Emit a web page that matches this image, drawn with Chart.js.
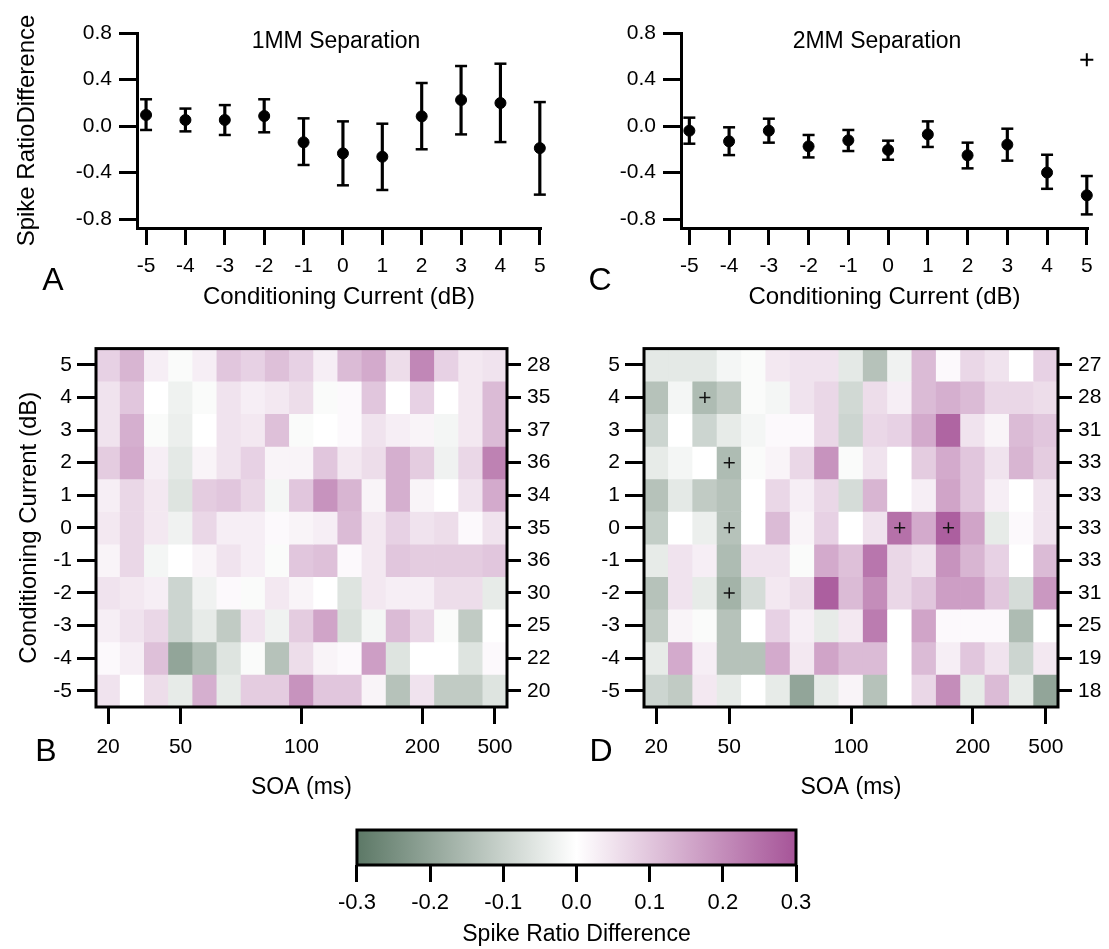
<!DOCTYPE html>
<html>
<head>
<meta charset="utf-8">
<script src="https://cdn.jsdelivr.net/npm/chart.js@4.4.0/dist/chart.umd.min.js"></script>
<style>
  body { margin: 0; background: #fff; font-family: 'Liberation Sans', Arial, sans-serif; }
  #page { position: relative; width: 1109px; height: 949px; overflow: hidden; }
  canvas { position: absolute; }
  .lbl { position: absolute; transform: translate(-50%, -50%); color: #000; white-space: nowrap; }
</style>
</head>
<body>
<div id="page">
  <canvas id="chartA" width="580" height="320" style="left:0;top:0"></canvas>
  <canvas id="chartC" width="549" height="320" style="left:560px;top:0"></canvas>
  <canvas id="chartB" width="580" height="480" style="left:0;top:330px"></canvas>
  <canvas id="chartD" width="549" height="480" style="left:560px;top:330px"></canvas>
  <canvas id="cbar" width="500" height="134" style="left:330px;top:815px"></canvas>
  <div class="lbl" style="left:53px;top:279px;font-size:32px">A</div>
  <div class="lbl" style="left:600px;top:279px;font-size:32px">C</div>
  <div class="lbl" style="left:46px;top:750px;font-size:32px">B</div>
  <div class="lbl" style="left:601px;top:750px;font-size:32px">D</div>
  <div class="lbl" style="left:336px;top:40px;font-size:23px">1MM Separation</div>
  <div class="lbl" style="left:877px;top:40px;font-size:23px">2MM Separation</div>
</div>
<script>
/* data */
const currents = [-5, -4, -3, -2, -1, 0, 1, 2, 3, 4, 5];

// A: 1 mm separation, mean and error bar ends
const meanA  = [0.095, 0.052, 0.052, 0.086, -0.14, -0.235, -0.264, 0.083, 0.224, 0.198, -0.19];
const upperA = [0.23, 0.15, 0.18, 0.23, 0.066, 0.04, 0.02, 0.37, 0.516, 0.536, 0.206];
const lowerA = [-0.034, -0.046, -0.077, -0.054, -0.335, -0.51, -0.55, -0.2, -0.072, -0.138, -0.59];

// C: 2 mm separation
const meanC  = [-0.04, -0.132, -0.04, -0.175, -0.123, -0.206, -0.072, -0.252, -0.16, -0.4, -0.596];
const upperC = [0.072, -0.011, 0.063, -0.077, -0.034, -0.126, 0.04, -0.143, -0.023, -0.247, -0.43];
const lowerC = [-0.152, -0.25, -0.143, -0.27, -0.215, -0.29, -0.18, -0.364, -0.298, -0.54, -0.76];
const sigCx = [5];
const sigCy = [0.57];

// heatmaps: rows from +5 dB (top) to -5 dB, 17 SOA columns
const rowLevels = [5, 4, 3, 2, 1, 0, -1, -2, -3, -4, -5];
const soaTickIndex = [0, 3, 8, 13, 16];
const soaTickLabel = ['20', '50', '100', '200', '500'];
const countsB = [28, 35, 37, 36, 34, 35, 36, 30, 25, 22, 20];
const countsD = [27, 28, 31, 33, 33, 33, 33, 31, 25, 19, 18];

const heatB = [
  [0.08, 0.13, 0.03, -0.01, 0.03, 0.10, 0.08, 0.11, 0.08, 0.03, 0.12, 0.15, 0.06, 0.21, 0.08, 0.04, 0.05],
  [0.05, 0.10, 0.00, -0.03, -0.01, 0.05, 0.03, 0.04, 0.06, -0.01, 0.01, 0.10, 0.00, 0.08, 0.00, 0.04, 0.12],
  [0.05, 0.14, -0.01, -0.035, 0.00, 0.05, 0.04, 0.11, -0.01, 0.00, 0.01, 0.05, 0.03, 0.02, -0.02, 0.04, 0.12],
  [0.09, 0.15, 0.03, -0.05, 0.02, 0.05, 0.08, 0.02, 0.02, 0.10, 0.04, 0.06, 0.14, 0.09, -0.028, 0.07, 0.22],
  [0.03, 0.07, 0.04, -0.06, 0.09, 0.10, 0.07, -0.02, 0.10, 0.19, 0.13, 0.02, 0.14, 0.02, 0.00, 0.05, 0.15],
  [0.04, 0.07, 0.04, -0.028, 0.07, 0.03, 0.03, 0.01, 0.02, 0.03, 0.12, 0.04, 0.08, 0.05, 0.06, 0.01, 0.05],
  [0.02, 0.07, -0.02, 0.00, 0.02, 0.05, 0.03, -0.01, 0.10, 0.11, 0.01, 0.04, 0.10, 0.09, 0.09, 0.09, 0.10],
  [0.05, 0.04, 0.03, -0.093, -0.028, 0.01, -0.01, 0.04, 0.02, 0.00, -0.06, 0.04, 0.03, 0.03, 0.06, 0.06, -0.045],
  [0.03, 0.05, 0.07, -0.093, -0.045, -0.115, 0.05, -0.028, 0.09, 0.16, -0.07, -0.02, 0.12, 0.07, -0.01, -0.115, 0.00],
  [0.01, 0.03, 0.11, -0.20, -0.145, -0.06, -0.01, -0.135, 0.06, 0.02, 0.01, 0.17, -0.06, 0.00, 0.00, -0.06, 0.01],
  [0.05, 0.00, 0.06, -0.045, 0.14, -0.045, 0.09, 0.09, 0.19, 0.10, 0.10, 0.02, -0.135, 0.05, -0.115, -0.115, -0.06]
];

const heatD = [
  [-0.05, -0.05, -0.05, -0.02, -0.01, 0.04, 0.05, 0.05, -0.05, -0.135, -0.028, 0.12, 0.01, 0.07, 0.05, 0.00, 0.08],
  [-0.135, -0.02, -0.15, -0.115, -0.01, -0.02, 0.05, 0.07, -0.085, 0.06, 0.03, 0.12, 0.14, 0.12, 0.07, 0.07, 0.06],
  [-0.093, 0.00, -0.093, -0.045, -0.02, 0.01, 0.01, 0.07, -0.093, 0.07, 0.08, 0.15, 0.27, 0.05, 0.02, 0.12, 0.10],
  [-0.045, -0.02, 0.00, -0.15, -0.01, 0.02, 0.07, 0.19, -0.01, 0.05, 0.00, 0.09, 0.15, 0.10, 0.05, 0.13, 0.09],
  [-0.135, -0.05, -0.115, -0.135, 0.00, 0.07, 0.03, 0.07, -0.077, 0.13, 0.00, 0.03, 0.16, 0.10, 0.03, 0.00, 0.05],
  [-0.11, 0.00, -0.035, -0.135, 0.00, 0.12, 0.02, 0.08, 0.00, 0.05, 0.25, 0.15, 0.28, 0.16, -0.045, 0.01, 0.05],
  [-0.045, 0.05, 0.03, -0.15, 0.05, 0.05, -0.01, 0.15, 0.11, 0.24, 0.07, 0.05, 0.19, 0.13, 0.08, 0.00, 0.12],
  [-0.135, 0.05, -0.045, -0.17, -0.077, 0.04, 0.06, 0.28, 0.12, 0.20, 0.07, 0.10, 0.17, 0.17, 0.10, -0.077, 0.18],
  [-0.115, 0.02, -0.01, -0.135, 0.00, 0.08, 0.03, -0.045, 0.04, 0.23, 0.00, 0.16, 0.01, 0.01, 0.01, -0.15, 0.00],
  [-0.045, 0.15, 0.03, -0.135, -0.135, 0.15, 0.04, 0.16, 0.12, 0.12, 0.00, 0.12, 0.03, 0.10, 0.05, -0.093, 0.04],
  [-0.093, -0.115, 0.04, -0.045, 0.00, -0.045, -0.20, -0.045, 0.02, -0.135, 0.00, 0.07, 0.20, -0.045, 0.12, -0.045, -0.20]
];

// significant cells in D (column index, level in dB)
const sigDcol = [2, 3, 3, 10, 12, 3];
const sigDrow = [4, 2, 0, 0, 0, -2];

/* colour scale */
const cmax = 0.3;
const lowColor = [92, 120, 102];
const highColor = [166, 84, 152];

function spikeColor(v) {
    let t = Math.max(-1, Math.min(1, v / cmax));
    const end = t < 0 ? lowColor : highColor;
    t = Math.abs(t);
    const c = end.map(e => Math.round(255 + (e - 255) * t));
    return 'rgb(' + c.join(',') + ')';
}

function fmt1(v) {
    return (Math.abs(v) < 1e-9 ? 0 : v).toFixed(1);
}

Chart.defaults.font.family = "'Liberation Sans', Arial, sans-serif";
Chart.defaults.font.size = 21;
Chart.defaults.color = '#000';

const framePlugin = {
    id: 'frame',
    afterDatasetsDraw(chart) {
        const ctx = chart.ctx, a = chart.chartArea;
        ctx.save();
        ctx.strokeStyle = '#000';
        ctx.lineWidth = 3;
        ctx.strokeRect(a.left, a.top, a.right - a.left, a.bottom - a.top);
        ctx.restore();
    }
};

const gradientPlugin = {
    id: 'cbarFill',
    beforeDatasetsDraw(chart) {
        const ctx = chart.ctx, a = chart.chartArea, x = chart.scales.x;
        const g = ctx.createLinearGradient(x.getPixelForValue(-cmax), 0, x.getPixelForValue(cmax), 0);
        g.addColorStop(0, spikeColor(-cmax));
        g.addColorStop(0.5, spikeColor(0));
        g.addColorStop(1, spikeColor(cmax));
        ctx.save();
        ctx.fillStyle = g;
        ctx.fillRect(a.left, a.top, a.right - a.left, a.bottom - a.top);
        ctx.restore();
    }
};

/* error bar panels */
function makeErrorChart(id, mean, upper, lower, sigX, sigY, box) {
    const xy = (arr) => currents.map((c, i) => ({x: c, y: arr[i]}));
    new Chart(document.getElementById(id), {
        type: 'scatter',
        data: {
            datasets: [
                {type: 'bar', data: currents.map((c, i) => ({x: c, y: [lower[i], upper[i]]})),
                 backgroundColor: '#000', barThickness: 2.5, grouped: false, clip: false},
                {data: xy(upper), pointStyle: 'line', pointRadius: 6, borderColor: '#000', borderWidth: 2.5, clip: false},
                {data: xy(lower), pointStyle: 'line', pointRadius: 6, borderColor: '#000', borderWidth: 2.5, clip: false},
                {data: xy(mean), pointRadius: 5.5, backgroundColor: '#000', borderColor: '#000', clip: false},
                {data: sigX.map((x, i) => ({x: x, y: sigY[i]})), pointStyle: 'cross', pointRadius: 6.5,
                 borderColor: '#000', borderWidth: 2, clip: false}
            ]
        },
        options: {
            responsive: false,
            animation: false,
            events: [],
            layout: {padding: {top: 33, right: box.right, left: 0, bottom: 0}},
            plugins: {legend: {display: false}, tooltip: {enabled: false}},
            scales: {
                x: {
                    type: 'linear', min: box.xmin, max: box.xmax, offset: false,
                    afterFit: s => { s.height = 92; },
                    border: {color: '#000', width: 3},
                    grid: {drawOnChartArea: false, offset: false, tickLength: 17, tickWidth: 3, tickColor: '#000'},
                    ticks: {stepSize: 1, includeBounds: false, padding: 9, maxRotation: 0},
                    title: {display: true, text: 'Conditioning Current (dB)', font: {size: 24}, padding: {top: 0, bottom: 8}}
                },
                y: {
                    min: -0.877, max: 0.8,
                    afterFit: s => { s.width = box.yWidth; },
                    border: {color: '#000', width: 3},
                    grid: {drawOnChartArea: false, tickLength: 18, tickWidth: 3, tickColor: '#000'},
                    ticks: {stepSize: 0.4, includeBounds: false, padding: 7, callback: fmt1},
                    title: {display: box.yTitle !== '', text: box.yTitle, font: {size: 24}, padding: {top: 13, bottom: 0}}
                }
            }
        }
    });
}

/* heatmap panels, one floating bar per cell */
function makeHeatmap(id, grid, counts, sigCols, sigRows, box) {
    const nCols = grid[0].length;
    const datasets = grid.map((row, r) => ({
        type: 'bar',
        data: row.map((v, c) => ({x: c, y: [rowLevels[r] - 0.5, rowLevels[r] + 0.5]})),
        backgroundColor: row.map(spikeColor),
        barPercentage: 1,
        categoryPercentage: 1,
        grouped: false,
        borderWidth: 0
    }));
    datasets.push({
        type: 'scatter', order: -1,
        data: sigCols.map((c, i) => ({x: c, y: sigRows[i]})),
        pointStyle: 'cross', pointRadius: 5.5, borderColor: '#111', borderWidth: 1.5
    });
    const tickGrid = (len) => ({drawOnChartArea: false, offset: false, tickLength: len, tickWidth: 3, tickColor: '#000'});
    const levelTicks = s => { s.ticks = rowLevels.map(v => ({value: v})); };
    new Chart(document.getElementById(id), {
        type: 'bar',
        data: {datasets: datasets},
        options: {
            responsive: false,
            animation: false,
            events: [],
            layout: {padding: {top: 18, right: 0, left: 0, bottom: 0}},
            plugins: {legend: {display: false}, tooltip: {enabled: false}},
            scales: {
                x: {
                    type: 'linear', min: -0.5, max: nCols - 0.5, offset: false,
                    afterBuildTicks: s => { s.ticks = soaTickIndex.map(v => ({value: v})); },
                    afterFit: s => { s.height = 103; },
                    border: {display: false},
                    grid: tickGrid(17),
                    ticks: {padding: 11, maxRotation: 0, autoSkip: false,
                            callback: v => soaTickLabel[soaTickIndex.indexOf(v)]},
                    title: {display: true, text: 'SOA (ms)', font: {size: 23}, padding: {top: 0, bottom: 9}}
                },
                y: {
                    type: 'linear', position: 'left', min: -5.5, max: 5.5,
                    afterBuildTicks: levelTicks,
                    afterFit: s => { s.width = box.leftW; },
                    border: {display: false},
                    grid: tickGrid(19),
                    ticks: {autoSkip: false, padding: 5},
                    title: {display: box.yTitle !== '', text: box.yTitle, font: {size: 24}, padding: {top: 15, bottom: 0}}
                },
                yr: {
                    type: 'linear', position: 'right', display: true, min: -5.5, max: 5.5,
                    afterBuildTicks: levelTicks,
                    afterFit: s => { s.width = box.rightW; },
                    border: {display: false},
                    grid: tickGrid(14),
                    ticks: {autoSkip: false, padding: 6,
                            callback: v => counts[rowLevels.indexOf(v)]}
                }
            }
        },
        plugins: [framePlugin]
    });
}

makeErrorChart('chartA', meanA, upperA, lowerA, [], [],
    {xmin: -5.23, xmax: 5.03, right: 39, yWidth: 137, yTitle: 'Spike RatioDifference'});
makeErrorChart('chartC', meanC, upperC, lowerC, sigCx, sigCy,
    {xmin: -5.21, xmax: 5.03, right: 21, yWidth: 121, yTitle: ''});

makeHeatmap('chartB', heatB, countsB, [], [],
    {leftW: 96, rightW: 73, yTitle: 'Conditioning Current (dB)'});
makeHeatmap('chartD', heatD, countsD, sigDcol, sigDrow,
    {leftW: 84, rightW: 51, yTitle: ''});

/* colour bar */
new Chart(document.getElementById('cbar'), {
    type: 'scatter',
    data: {datasets: [{data: []}]},
    options: {
        responsive: false,
        animation: false,
        events: [],
        layout: {padding: {top: 15, right: 34, left: 26, bottom: 0}},
        plugins: {legend: {display: false}, tooltip: {enabled: false}},
        scales: {
            x: {
                type: 'linear', min: -cmax, max: cmax,
                afterFit: s => { s.height = 84; },
                border: {display: false},
                grid: {drawOnChartArea: false, tickLength: 17, tickWidth: 3, tickColor: '#000'},
                ticks: {stepSize: 0.1, padding: 8, maxRotation: 0, font: {size: 22}, callback: fmt1},
                title: {display: true, text: 'Spike Ratio Difference', font: {size: 23}, padding: {top: 0, bottom: 1}}
            },
            y: {display: false, min: 0, max: 1}
        }
    },
    plugins: [gradientPlugin, framePlugin]
});
</script>
</body>
</html>
